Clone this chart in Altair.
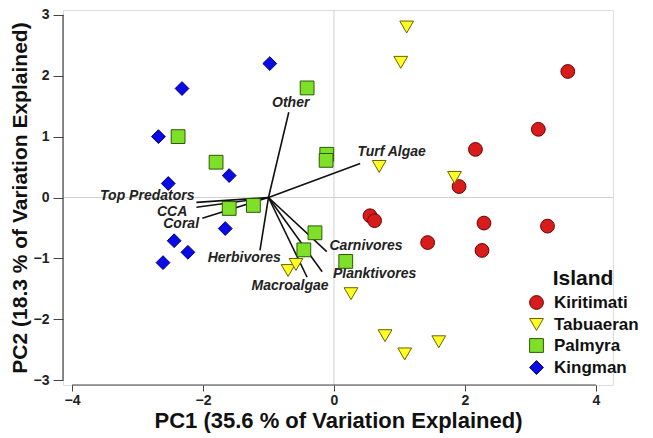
import altair as alt
import pandas as pd

# ---- data ----
kir_x = [3.57, 3.12, 2.16, 1.91, 0.55, 0.62, 2.29, 3.26, 1.43, 2.26]
kir_y = [2.07, 1.12, 0.79, 0.18, -0.30, -0.38, -0.42, -0.47, -0.74, -0.87]
tab_x = [1.11, 1.02, 0.69, 1.84, -0.70, -0.58, 0.26, 0.78, 1.08, 1.60]
tab_y = [2.80, 2.22, 0.51, 0.33, -1.20, -1.10, -1.58, -2.27, -2.57, -2.37]
pal_x = [-2.38, -0.41, -1.80, -0.11, -0.12, -1.60, -1.23, -0.29, -0.46, 0.18]
pal_y = [1.00, 1.80, 0.58, 0.71, 0.61, -0.18, -0.13, -0.58, -0.86, -1.05]
kin_x = [-0.98, -2.32, -2.68, -1.60, -2.53, -1.66, -2.44, -2.23, -2.61]
kin_y = [2.20, 1.79, 1.00, 0.36, 0.23, -0.51, -0.71, -0.90, -1.07]

islands = ["Kiritimati", "Tabuaeran", "Palmyra", "Kingman"]

vec_names = ["Other", "Turf Algae", "Top Predators", "CCA", "Coral",
             "Herbivores", "Macroalgae", "Planktivores", "Carnivores"]
vec_origin_x = -1.0
vec_origin_y = 0.0
vec_x = [-0.69, 0.40, -2.10, -2.10, -2.01, -1.13, -0.41, -0.18, -0.11]
vec_y = [1.40, 0.56, -0.08, -0.16, -0.34, -0.87, -1.31, -1.22, -0.89]
lab_x = [-0.66, 0.88, -2.13, -2.24, -2.06, -1.37, -0.67, 0.62, 0.49]
lab_y = [1.56, 0.74, 0.02, -0.23, -0.43, -0.99, -1.46, -1.25, -0.79]
lab_align = ["center", "center", "right", "right", "right", "center", "center", "center", "center"]

x_ticks = [-4, -2, 0, 2, 4]
y_ticks = [-3, -2, -1, 0, 1, 2, 3]

X_DOM = [-4.137, 4.26]
Y_DOM = [-3.08, 3.08]

# ---- tables ----
rows = []
for name, xs_, ys_ in [("Kiritimati", kir_x, kir_y), ("Tabuaeran", tab_x, tab_y),
                       ("Palmyra", pal_x, pal_y), ("Kingman", kin_x, kin_y)]:
    for a, b in zip(xs_, ys_):
        rows.append({"PC1": a, "PC2": b, "Island": name})
pts = pd.DataFrame(rows)

vec = pd.DataFrame({"name": vec_names, "x0": vec_origin_x, "y0": vec_origin_y,
                    "x1": vec_x, "y1": vec_y, "lx": lab_x, "ly": lab_y, "al": lab_align})

FONT = "Liberation Sans"
xs = alt.Scale(domain=X_DOM, nice=False, zero=False)
ys = alt.Scale(domain=Y_DOM, nice=False, zero=False)

xaxis = alt.Axis(values=x_ticks, format="d", title="PC1 (35.6 % of Variation Explained)", grid=False,
                 domain=False, labelFont=FONT, labelFontSize=14, labelFontWeight="bold",
                 labelColor="#222", titleFont=FONT, titleFontSize=22, titleFontWeight="bold",
                 titleColor="#111", tickColor="#444", tickSize=6, labelPadding=2, titlePadding=3)
yaxis = alt.Axis(values=y_ticks, format="d", title="PC2 (18.3 % of Variation Explained)", grid=False,
                 domain=False, labelFont=FONT, labelFontSize=14, labelFontWeight="bold",
                 labelColor="#222", titleFont=FONT, titleFontSize=21, titleFontWeight="bold",
                 titleColor="#111", tickColor="#444", tickSize=10, labelPadding=4, titlePadding=3)

# zero grid lines
vline = alt.Chart(pd.DataFrame({"x": [0]})).mark_rule(color="#d0d0d0", strokeWidth=1).encode(
    x=alt.X("x:Q", scale=xs, axis=xaxis))
hline = alt.Chart(pd.DataFrame({"y": [0]})).mark_rule(color="#d0d0d0", strokeWidth=1).encode(
    y=alt.Y("y:Q", scale=ys, axis=yaxis))

# axis lines drawn from tick range
xline = alt.Chart(pd.DataFrame({"a": [x_ticks[0]], "b": [x_ticks[-1]], "y": [Y_DOM[0]]})).mark_rule(
    color="#444", strokeWidth=1.2).encode(x=alt.X("a:Q", scale=xs), x2="b:Q", y=alt.Y("y:Q", scale=ys))
yline = alt.Chart(pd.DataFrame({"a": [y_ticks[0]], "b": [y_ticks[-1]], "x": [X_DOM[0]]})).mark_rule(
    color="#444", strokeWidth=1.2).encode(y=alt.Y("a:Q", scale=ys), y2="b:Q", x=alt.X("x:Q", scale=xs))

vectors = alt.Chart(vec).mark_rule(color="#111", strokeWidth=1.6).encode(
    x=alt.X("x0:Q", scale=xs), y=alt.Y("y0:Q", scale=ys), x2="x1:Q", y2="y1:Q")

labels = []
for al in ["center", "right"]:
    labels.append(alt.Chart(vec[vec["al"] == al]).mark_text(
        font=FONT, fontSize=14, fontWeight="bold", fontStyle="italic", color="#222",
        align=al, baseline="middle").encode(
        x=alt.X("lx:Q", scale=xs), y=alt.Y("ly:Q", scale=ys), text="name:N"))

leg = alt.Legend(orient="none", legendX=465, legendY=258, title="Island",
                 titleFont=FONT, titleFontSize=21, titleFontWeight="bold", titleColor="#111",
                 titleAnchor="middle", titlePadding=5,
                 labelFont=FONT, labelFontSize=17, labelFontWeight="bold", labelColor="#111",
                 symbolSize=190, symbolStrokeWidth=1, rowPadding=3, labelOffset=9)

points = alt.Chart(pts).mark_point(filled=True, size=190, strokeWidth=1, opacity=1).encode(
    x=alt.X("PC1:Q", scale=xs),
    y=alt.Y("PC2:Q", scale=ys),
    shape=alt.Shape("Island:N", sort=islands, legend=leg,
                    scale=alt.Scale(domain=islands, range=["circle", "triangle-down", "square", "diamond"])),
    fill=alt.Fill("Island:N", sort=islands, legend=leg,
                  scale=alt.Scale(domain=islands, range=["#d81c1c", "#ffff22", "#7fe02a", "#0a0ae6"])),
    stroke=alt.Stroke("Island:N", sort=islands, legend=leg,
                      scale=alt.Scale(domain=islands, range=["#6a0000", "#6a6000", "#2c5a00", "#00007a"])),
)

chart = alt.layer(vline, hline, xline, yline, vectors, *labels, points).properties(
    width=550, height=375,
    autosize=alt.AutoSizeParams(type="none"),
    padding={"left": 55, "top": 2, "right": 32, "bottom": 50},
).configure_view(stroke=None).configure(background="white")

chart.save("out.html", embed_options={"renderer": "svg", "actions": False})
